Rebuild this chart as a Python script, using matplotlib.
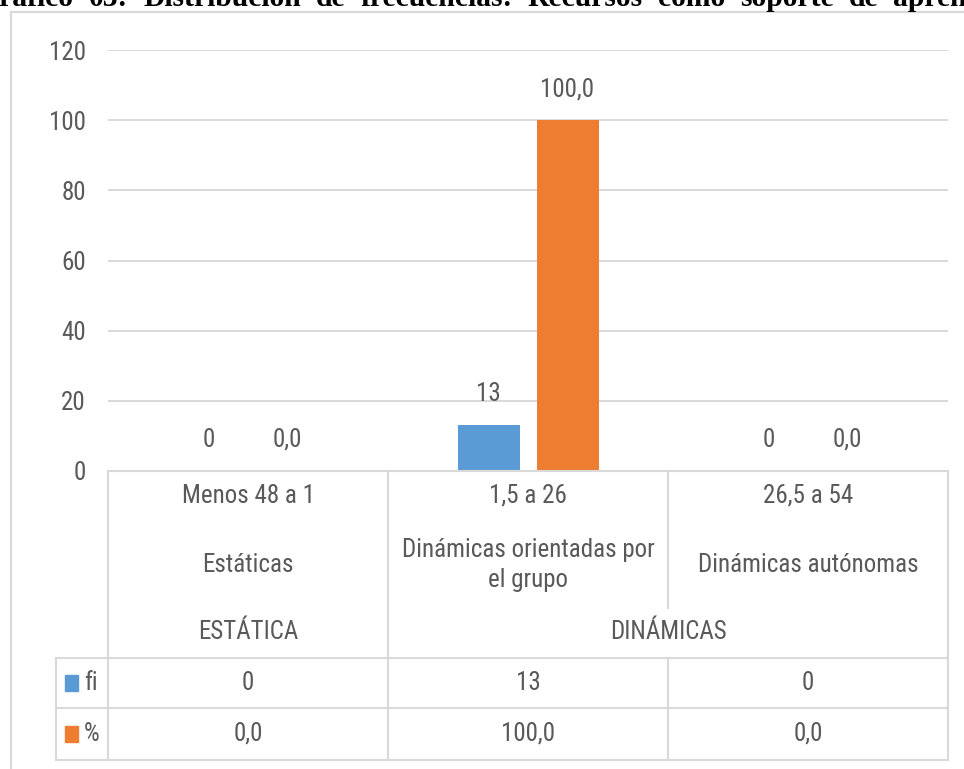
import os
import matplotlib
matplotlib.use("Agg")
import matplotlib.pyplot as plt
from matplotlib import font_manager as fm
from matplotlib.patches import Rectangle
from matplotlib.lines import Line2D
from matplotlib.transforms import blended_transform_factory

# ---------------- data ----------------
range_labels = ["Menos 48 a 1", "1,5 a 26", "26,5 a 54"]
level_labels = ["Estáticas", "Dinámicas orientadas por\nel grupo", "Dinámicas autónomas"]
group_labels = ["ESTÁTICA", "DINÁMICAS"]
group_spans = [(0, 0), (1, 2)]
series_names = ["fi", "%"]
fi_values = [0, 13, 0]
pct_values = [0.0, 100.0, 0.0]
y_ticks = [0, 20, 40, 60, 80, 100, 120]
title_words = ["Gráfico", "03:", "Distribución", "de", "frecuencias:", "Recursos",
               "como", "soporte", "de", "aprendizaje"]

# ---------------- fonts ----------------
def pick_condensed():
    prefs = ["liberationsansnarrow-regular", "robotocondensed-regular",
             "opensans_condensed-regular", "opensanscondensed-regular",
             "opensans-condensedregular", "notosans-condensed.", "notosans-condensedregular",
             "notosans-semicondensed.", "notosans-semicondensedregular",
             "dejavusanscondensed.", "lato-regular", "roboto-regular"]
    files = [f.fname for f in fm.fontManager.ttflist]
    for p in prefs:
        for fn in files:
            if os.path.basename(fn).lower().startswith(p):
                return fn
    return None

CFILE = pick_condensed()
if CFILE:
    def FP(size):
        return fm.FontProperties(fname=CFILE, size=size)
else:
    def FP(size):
        return fm.FontProperties(family="DejaVu Sans", size=size)

names = {f.name for f in fm.fontManager.ttflist}
SERIF = "Liberation Serif" if "Liberation Serif" in names else "DejaVu Serif"
BLUE = "#5B9BD5"
ORANGE = "#ED7D31"
TXT = "#595959"
GRID = "#D9D9D9"
FS = 18
PX = 72 / 100  # points per pixel at 100 dpi

W, H = 964, 769
fig = plt.figure(figsize=(W / 100, H / 100), dpi=100)
fig.patch.set_facecolor("white")

def fx(x):
    return x / W

def fy(y):
    return 1 - y / H

# plot area in pixels
L, R, T, B = 108, 948, 50, 471
ax = fig.add_axes([fx(L), fy(B), fx(R - L), (B - T) / H])
ax.set_xlim(-0.5, 2.5)
ax.set_ylim(0, 120)
for s in ax.spines.values():
    s.set_visible(False)
ax.set_yticks(y_ticks)
ax.set_yticklabels([str(t) for t in y_ticks], color=TXT)
for lab in ax.get_yticklabels():
    lab.set_fontproperties(FP(FS))
ax.tick_params(axis="y", length=0, pad=22 * PX)
ax.set_xticks([])
ax.yaxis.grid(True, color=GRID, lw=1.4)
ax.set_axisbelow(True)
ax.set_facecolor("none")

x = list(range(len(range_labels)))
bw = 62 / 280
off = 39.5 / 280
b1 = ax.bar([i - off for i in x], fi_values, width=bw, color=BLUE, zorder=3)
b2 = ax.bar([i + off for i in x], pct_values, width=bw, color=ORANGE, zorder=3)

def fmt_pct(v):
    return f"{v:.1f}".replace(".", ",")

for rect, v in zip(b1, fi_values):
    ax.annotate(str(v), (rect.get_x() + rect.get_width() / 2, rect.get_height()),
                xytext=(0, 24 * PX), textcoords="offset points", ha="center", va="baseline",
                fontproperties=FP(FS), color=TXT)
for rect, v in zip(b2, pct_values):
    ax.annotate(fmt_pct(v), (rect.get_x() + rect.get_width() / 2, rect.get_height()),
                xytext=(0, 24 * PX), textcoords="offset points", ha="center", va="baseline",
                fontproperties=FP(FS), color=TXT)

# ---------------- data table below ----------------
bt = blended_transform_factory(ax.transData, fig.transFigure)
LW = 1.5

def hline(x0, x1, y):
    fig.add_artist(Line2D([fx(x0), fx(x1)], [fy(y), fy(y)], color=GRID, lw=LW,
                          transform=fig.transFigure))

def vline(xp, y0, y1):
    fig.add_artist(Line2D([fx(xp), fx(xp)], [fy(y0), fy(y1)], color=GRID, lw=LW,
                          transform=fig.transFigure))

hline(L, R, B)
hline(56, R, 658)
hline(56, R, 708)
hline(56, R, 760)
vline(L, B, 760)
vline(388, B, 760)
vline(668, B, 608)
vline(668, 658, 760)
vline(R, B, 760)
vline(56, 658, 760)

for i, lab in enumerate(range_labels):
    fig.text(i, fy(496), lab, transform=bt, ha="center", va="center",
             fontproperties=FP(FS), color=TXT)
for i, lab in enumerate(level_labels):
    fig.text(i, fy(565), lab, transform=bt, ha="center", va="center",
             fontproperties=FP(FS), color=TXT, linespacing=1.3)
for lab, (a, b) in zip(group_labels, group_spans):
    fig.text((a + b) / 2, fy(632), lab, transform=bt, ha="center", va="center",
             fontproperties=FP(FS), color=TXT)

row_y = [683, 734]
for name, vals, col, yy, f in zip(series_names, [fi_values, pct_values], [BLUE, ORANGE],
                                  row_y, [str, fmt_pct]):
    fig.add_artist(Rectangle((fx(65), fy(yy + 8)), fx(13), 16 / H, color=col,
                             transform=fig.transFigure))
    fig.text(fx(84), fy(yy), name, ha="left", va="center", fontproperties=FP(FS), color=TXT)
    for i, v in enumerate(vals):
        fig.text(i, fy(yy), f(v), transform=bt, ha="center", va="center",
                 fontproperties=FP(FS), color=TXT)

# outer chart border
fig.add_artist(Rectangle((fx(11), fy(900)), fx(1100), 888 / H, fill=False,
                         edgecolor=GRID, lw=1.6, transform=fig.transFigure))

# title (justified paragraph, cut off at the top as in the reference)
fig.canvas.draw()
renderer = fig.canvas.get_renderer()
tprops = dict(fontsize=21.3, fontweight="bold", family=SERIF, color="black",
              ha="left", va="baseline")
GAP = 15.0
anchor_idx = 2
anchor_x = 143.0
widths = []
for w in title_words:
    t = fig.text(0, 0, w, **tprops)
    widths.append(t.get_window_extent(renderer).width)
    t.remove()
xs = [0.0] * len(title_words)
xs[anchor_idx] = anchor_x
for k in range(anchor_idx - 1, -1, -1):
    xs[k] = xs[k + 1] - GAP - widths[k]
for k in range(anchor_idx + 1, len(title_words)):
    xs[k] = xs[k - 1] + widths[k - 1] + GAP
for w, xx in zip(title_words, xs):
    fig.text(fx(xx), fy(6), w, **tprops)

fig.savefig("out.png", dpi=100)
